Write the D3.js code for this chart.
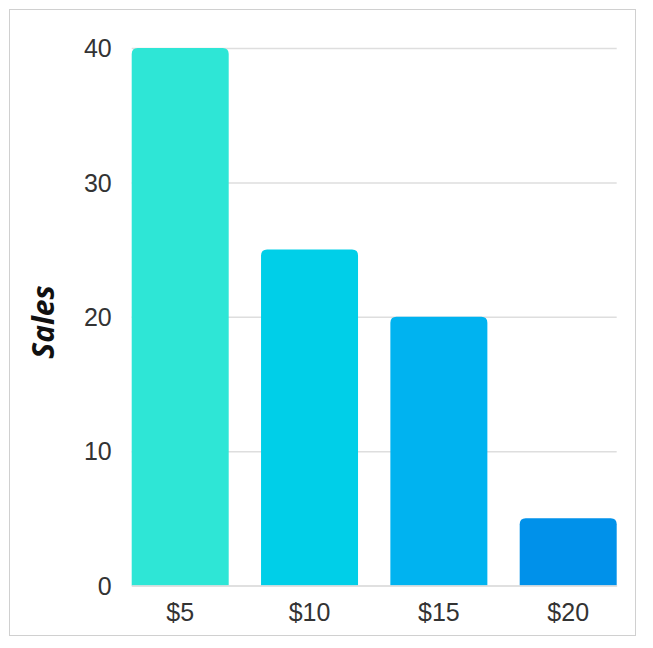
<!DOCTYPE html>
<html><head><meta charset="utf-8">
<script src="https://cdn.jsdelivr.net/npm/d3@7"></script>
<style>html,body{margin:0;padding:0;background:#fff;}</style>
</head><body>
<svg id="chart" width="653" height="648"></svg>
<script>
const categories = ["$5", "$10", "$15", "$20"];
const sales = [40, 25, 20, 5];
const barColors = ["#2ee6d6", "#00cfe8", "#00b3f0", "#0091ea"];
const yTicks = [0, 10, 20, 30, 40];
const yTitle = "Sales";

const svg = d3.select("#chart");
svg.append("rect").attr("x", 9.5).attr("y", 9.5).attr("width", 626).attr("height", 626)
  .attr("fill", "#fff").attr("stroke", "#d0d0d0").attr("stroke-width", 1);

const x = d3.scaleBand().domain(categories).range([131.7, 616.7]).paddingInner(0.25).paddingOuter(0);
const y = d3.scaleLinear().domain([0, 40]).range([585.5, 48]);

// gridlines
const yAxis = d3.axisLeft(y).tickValues(yTicks).tickSize(-(616.7 - 131.7)).tickPadding(20).tickFormat(d3.format("d"));
const ga = svg.append("g").attr("transform", "translate(131.7,0)").call(yAxis);
ga.select(".domain").remove();
ga.selectAll(".tick line").attr("stroke", "#dedede").attr("stroke-width", 1.5);
ga.selectAll(".tick text").attr("font-family", "Liberation Sans, Arial, sans-serif")
  .attr("font-size", 25).attr("fill", "#333").attr("dy", "0.35em");

// bars with rounded top corners
const r = 6;
function barPath(x0, y0, w, h) {
  const rr = Math.min(r, h);
  return `M${x0},${y0 + h}V${y0 + rr}Q${x0},${y0} ${x0 + rr},${y0}H${x0 + w - rr}Q${x0 + w},${y0} ${x0 + w},${y0 + rr}V${y0 + h}Z`;
}
svg.append("g").selectAll("path").data(categories).join("path")
  .attr("d", (c, i) => barPath(x(c), y(sales[i]), x.bandwidth(), y(0) - y(sales[i])))
  .attr("fill", (c, i) => barColors[i]);

// x axis
const xAxis = d3.axisBottom(x).tickSize(0).tickPadding(18);
const gx = svg.append("g").attr("transform", `translate(0,${y(0)})`).call(xAxis);
gx.select(".domain").attr("stroke", "#dedede").attr("stroke-width", 1.5);
gx.selectAll(".tick text").attr("font-family", "Liberation Sans, Arial, sans-serif")
  .attr("font-size", 25).attr("fill", "#333");

svg.append("text").attr("transform", "translate(54,322) rotate(-90)")
  .attr("text-anchor", "middle").attr("font-family", "Open Sans, sans-serif")
  .attr("font-weight", "bold").attr("font-style", "italic").attr("font-size", 30)
  .attr("fill", "#111").text(yTitle);
</script>
</body></html>
